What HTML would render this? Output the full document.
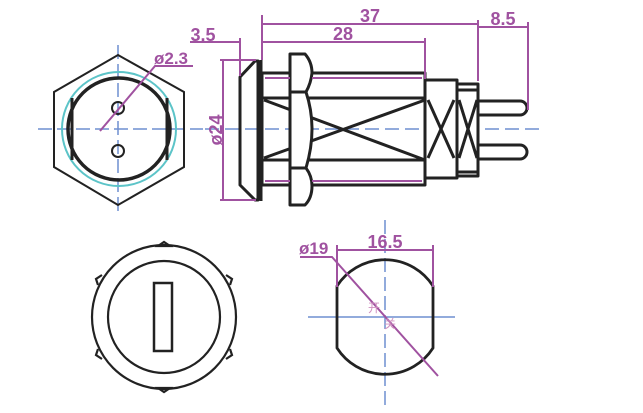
<!DOCTYPE html>
<html><head><meta charset="utf-8"><style>html,body{margin:0;padding:0;background:#fff}svg{display:block}</style></head>
<body>
<svg width="643" height="413" viewBox="0 0 643 413" xmlns="http://www.w3.org/2000/svg" font-family="Liberation Sans, sans-serif">
<g stroke="#6f8fd0" stroke-width="1.5" fill="none">
 <line x1="38" y1="129" x2="203" y2="129" stroke-dasharray="14,5"/>
 <line x1="118" y1="45" x2="118" y2="215" stroke-dasharray="14,5"/>
 <line x1="205" y1="129" x2="545" y2="129" stroke-dasharray="14,6"/>
 <line x1="308" y1="317" x2="455" y2="317"/>
 <line x1="385" y1="220" x2="385" y2="405" stroke-dasharray="14,5"/>
</g>
<!-- left view -->
<polygon points="118,55 184,92 184,167 118,205 54,167 54,92" fill="none" stroke="#222" stroke-width="2"/>
<circle cx="119" cy="129" r="57" fill="none" stroke="#5cc4c8" stroke-width="2"/>
<circle cx="119" cy="129" r="51" fill="none" stroke="#222" stroke-width="3.5"/>
<line x1="72" y1="98" x2="72" y2="160" stroke="#222" stroke-width="3"/>
<line x1="167" y1="98" x2="167" y2="160" stroke="#222" stroke-width="3"/>
<circle cx="118" cy="108" r="6" fill="none" stroke="#222" stroke-width="2"/>
<circle cx="118" cy="151" r="6" fill="none" stroke="#222" stroke-width="2"/>
<g stroke="#a052a0" stroke-width="2" fill="none">
 <polyline points="100,131 155,66 193,66"/>
</g>
<text x="154" y="64" fill="#a052a0" font-size="17" font-weight="bold">ø2.3</text>
<!-- side view -->
<g stroke="#222" stroke-width="3" fill="none" stroke-linejoin="round">
 <polygon points="240,77 255,61 258,61 258,200 255,200 240,185"/>
 <line x1="261" y1="60" x2="261" y2="201"/>
 <rect x="262" y="73" width="163" height="112"/>
 <line x1="262" y1="98" x2="425" y2="98"/>
 <line x1="262" y1="160" x2="425" y2="160"/>
 <line x1="264" y1="100" x2="425" y2="160"/>
 <line x1="264" y1="158" x2="425" y2="100"/>
 <path d="M290,205 L290,54 L305,54 Q312,62 312,73 Q311,83 306,92 Q312,110 312,129 Q312,148 306,168 Q312,176 312,186 Q312,198 305,205 Z" fill="#fff"/>
 <line x1="290" y1="92" x2="306" y2="92"/>
 <line x1="290" y1="168" x2="306" y2="168"/>
 <rect x="425" y="80" width="32" height="98" fill="#fff"/>
 <rect x="457" y="84" width="21" height="92" fill="#fff"/>
 <line x1="457" y1="90" x2="478" y2="90"/>
 <line x1="457" y1="172" x2="478" y2="172"/>
 <polyline points="428,100 441,129 428,158"/>
 <polyline points="454,100 441,129 454,158"/>
 <polyline points="459,100 468,129 459,158"/>
 <polyline points="477,100 468,129 477,158"/>
 <path d="M478,101 L520,101 A7,7 0 0 1 520,115 L478,115"/>
 <path d="M478,145 L520,145 A7,7 0 0 1 520,159 L478,159"/>
</g>
<g stroke="#a052a0" stroke-width="2" fill="none">
 <line x1="265" y1="78" x2="290" y2="78"/><line x1="312" y1="78" x2="422" y2="78"/>
 <line x1="265" y1="181" x2="290" y2="181"/><line x1="312" y1="181" x2="422" y2="181"/>
 <line x1="262" y1="24" x2="478" y2="24"/>
 <line x1="262" y1="42" x2="425" y2="42"/>
 <line x1="478" y1="27" x2="528" y2="27"/>
 <line x1="190" y1="42" x2="240" y2="42"/>
 <line x1="262" y1="15" x2="262" y2="60"/>
 <line x1="425" y1="38" x2="425" y2="79"/>
 <line x1="478" y1="20" x2="478" y2="81"/>
 <line x1="528" y1="22" x2="528" y2="110"/>
 <line x1="240" y1="38" x2="240" y2="76"/>
 <line x1="223" y1="60" x2="223" y2="200"/>
 <line x1="220" y1="60" x2="256" y2="60"/>
 <line x1="220" y1="200" x2="256" y2="200"/>
</g>
<g fill="#a052a0" font-size="18" font-weight="bold">
 <text x="370" y="22" text-anchor="middle">37</text>
 <text x="343" y="40" text-anchor="middle">28</text>
 <text x="503" y="25" text-anchor="middle">8.5</text>
 <text x="203" y="41" text-anchor="middle">3.5</text>
 <text transform="translate(222,130) rotate(-90)" text-anchor="middle">ø24</text>
</g>
<!-- bottom left -->
<g stroke="#222" stroke-width="2.2" fill="none">
 <circle cx="164" cy="317" r="72"/>
 <circle cx="164" cy="317" r="56"/>
 <rect x="154" y="283" width="18" height="68" stroke-width="2.5"/>
 <polygon points="158,246 164,242 170,246"/>
 <polygon points="158,388 164,392 170,388"/>
 <polyline points="98,285 96,279 102,275"/>
 <polyline points="230,285 232,279 226,275"/>
 <polyline points="98,349 96,355 102,359"/>
 <polyline points="230,349 232,355 226,359"/>
</g>
<!-- bottom right -->
<g stroke="#222" stroke-width="2.8" fill="none">
 <path d="M337,286 A57,57 0 0 1 433,286 L433,348 A57,57 0 0 1 337,348 Z"/>
</g>
<g stroke="#a052a0" stroke-width="2" fill="none">
 <line x1="337" y1="250" x2="433" y2="250"/>
 <line x1="337" y1="245" x2="337" y2="287"/>
 <line x1="433" y1="245" x2="433" y2="287"/>
 <polyline points="300,257 332,257 438,376"/>
</g>
<text x="385" y="248" fill="#a052a0" font-size="18" font-weight="bold" text-anchor="middle">16.5</text>
<text x="299" y="254" fill="#a052a0" font-size="17" font-weight="bold">ø19</text>
<text x="368" y="312" fill="#d090c0" font-size="12" font-family="Liberation Sans, Noto Sans CJK SC, sans-serif">开</text>
<text x="384" y="328" fill="#d090c0" font-size="12" font-family="Liberation Sans, Noto Sans CJK SC, sans-serif">关</text>
</svg>
</body></html>
